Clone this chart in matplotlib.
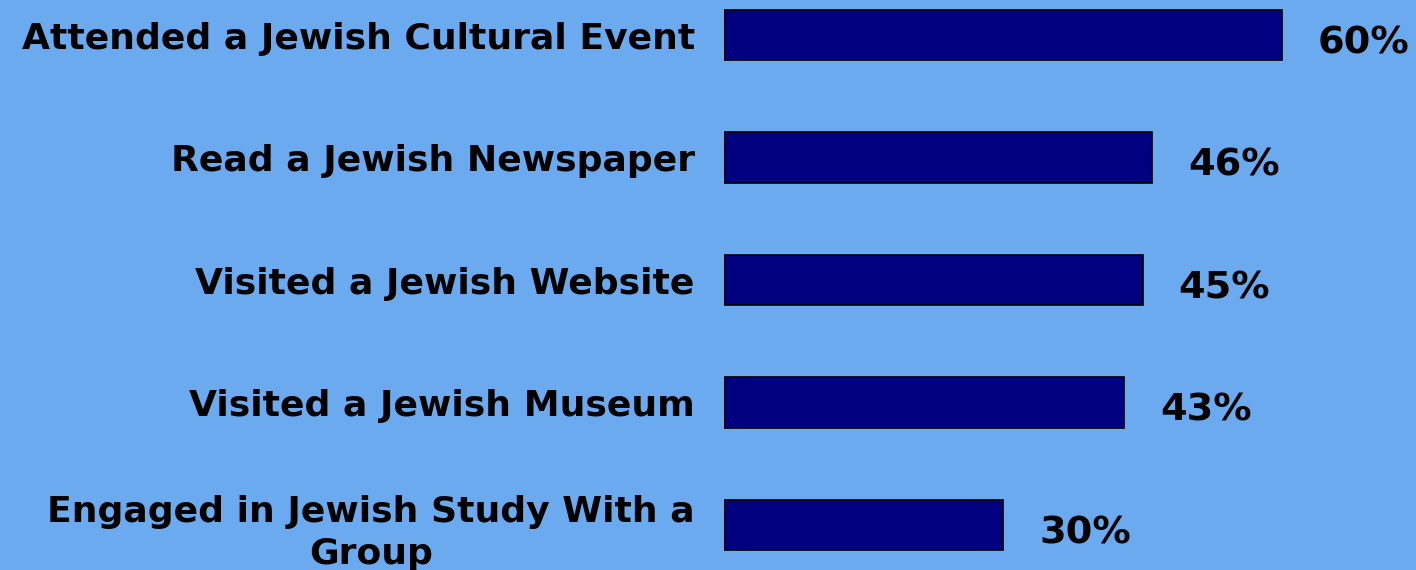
import matplotlib
matplotlib.use('Agg')
import matplotlib.pyplot as plt

# survey data
categories = ['Attended a Jewish Cultural Event',
              'Read a Jewish Newspaper',
              'Visited a Jewish Website',
              'Visited a Jewish Museum',
              'Engaged in Jewish Study With a\nGroup']
values = [60, 46, 45, 43, 30]
value_labels = ['60%', '46%', '45%', '43%', '30%']

bg = '#6CAAF0'
fig = plt.figure(figsize=(14.16, 5.70), dpi=100, facecolor=bg)
ax = fig.add_axes([724 / 1416, 0, 1 - 724 / 1416, 1], facecolor=bg)

ypos = list(range(len(categories)))
ax.barh(ypos, values, height=0.41, color='#000080', edgecolor='black', linewidth=1.2)

ax.set_xlim(0, 692 / 9.3)
ax.set_ylim(4.367, -0.2857)

ax.set_yticks(ypos)
ax.set_yticklabels(categories, fontsize=26, fontweight='bold', ha='right',
                   multialignment='center', linespacing=1.3)
ax.tick_params(axis='y', length=0, pad=21)
ax.set_xticks([])
for s in ax.spines.values():
    s.set_visible(False)

# value labels right of bars
for y, v, lab in zip(ypos, values, value_labels):
    ax.annotate(lab, (v, y), xytext=(26, -6), textcoords='offset points',
                ha='left', va='center', fontsize=27.5, fontweight='bold')

fig.savefig('out.png', dpi=100, facecolor=bg)
